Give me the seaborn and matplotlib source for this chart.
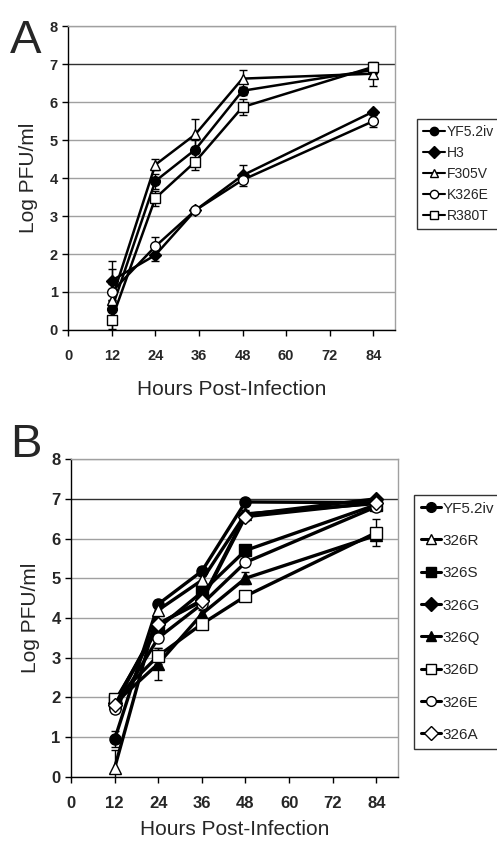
import numpy as np
import pandas as pd
import matplotlib
matplotlib.use("Agg")
import matplotlib.pyplot as plt
import seaborn as sns
from matplotlib.lines import Line2D
from matplotlib import font_manager

# Panel A data
hours_a = [12, 24, 35, 48, 84]
names_a = ["YF5.2iv", "H3", "F305V", "K326E", "R380T"]
yf_a = [0.55, 3.92, 4.75, 6.3, 6.85]
h3_a = [1.3, 1.97, 3.15, 4.07, 5.75]
f305v_a = [0.8, 4.35, 5.15, 6.62, 6.75]
k326e_a = [1.0, 2.2, 3.15, 3.95, 5.5]
r380t_a = [0.27, 3.47, 4.43, 5.87, 6.93]
err_yf_a = [0.2, 0.2, 0.25, 0.1, 0.12]
err_h3_a = [0.52, 0.15, 0.05, 0.27, 0.05]
err_f305v_a = [0.8, 0.15, 0.4, 0.22, 0.32]
err_k326e_a = [0.2, 0.25, 0.05, 0.05, 0.15]
err_r380t_a = [0.25, 0.2, 0.22, 0.2, 0.1]
markers_a = ["o", "D", "^", "o", "s"]
fills_a = ["black", "black", "white", "white", "white"]

# Panel B data
hours_b = [12, 24, 36, 48, 84]
names_b = ["YF5.2iv", "326R", "326S", "326G", "326Q", "326D", "326E", "326A"]
yf_b = [0.95, 4.35, 5.18, 6.92, 6.9]
r_b = [0.23, 4.2, 4.95, 6.62, 6.88]
s_b = [1.9, 3.75, 4.65, 5.7, 6.85]
g_b = [1.85, 3.85, 4.45, 6.6, 7.0]
q_b = [1.85, 2.85, 4.1, 5.0, 6.08]
d_b = [1.95, 3.05, 3.85, 4.55, 6.15]
e_b = [1.7, 3.5, 4.35, 5.4, 6.8]
a_b = [1.8, 3.85, 4.42, 6.55, 6.9]
err_yf_b = [0.2, 0.1, 0.1, 0.05, 0.1]
err_r_b = [0.45, 0.1, 0.1, 0.1, 0.1]
err_s_b = [0.1, 0.1, 0.1, 0.1, 0.1]
err_g_b = [0.1, 0.1, 0.1, 0.1, 0.05]
err_q_b = [0.1, 0.4, 0.1, 0.15, 0.1]
err_d_b = [0.1, 0.2, 0.1, 0.1, 0.35]
err_e_b = [0.1, 0.1, 0.1, 0.1, 0.1]
err_a_b = [0.1, 0.1, 0.1, 0.1, 0.1]
markers_b = ["o", "^", "s", "D", "^", "s", "o", "D"]
fills_b = ["black", "white", "black", "black", "black", "white", "white", "white"]

series_a = [yf_a, h3_a, f305v_a, k326e_a, r380t_a]
errs_a = [err_yf_a, err_h3_a, err_f305v_a, err_k326e_a, err_r380t_a]
series_b = [yf_b, r_b, s_b, g_b, q_b, d_b, e_b, a_b]
errs_b = [err_yf_b, err_r_b, err_s_b, err_g_b, err_q_b, err_d_b, err_e_b, err_a_b]

sns.set_style("white")
plt.rcParams['font.family'] = ['Liberation Sans', 'DejaVu Sans']

# narrow face for legend / panel B ticks if present
installed = {f.name for f in font_manager.fontManager.ttflist}
narrow = "Liberation Sans Narrow" if "Liberation Sans Narrow" in installed else "Liberation Sans"

fig = plt.figure(figsize=(4.97, 8.46), dpi=100)
ax_a = fig.add_axes([0.137, 0.610, 0.658, 0.359])
ax_b = fig.add_axes([0.143, 0.0816, 0.658, 0.3758])


def draw_panel(ax, hours, names, series, errs, markers, fills, msize, lw, tick_font, tick_size):
    for name, vals, err, m, fc in zip(names, series, errs, markers, fills):
        df = pd.DataFrame({"hours": hours, "logpfu": vals})
        ax.errorbar(hours, vals, yerr=err, fmt="none", ecolor="black",
                    elinewidth=1.0, capsize=3, capthick=1.0, zorder=2)
        ms = msize * (0.85 if m == "D" else 1.0)
        sns.lineplot(data=df, x="hours", y="logpfu", ax=ax, color="black",
                     linewidth=lw, marker=m, markersize=ms,
                     markerfacecolor=fc, markeredgecolor="black",
                     markeredgewidth=1.0, label=name, legend=False, zorder=3)
    ax.set_xlim(0, 90)
    ax.set_ylim(0, 8)
    ax.set_xticks(range(0, 85, 12))
    ax.set_yticks(range(0, 9))
    ax.grid(axis="y", color="#a0a0a0", linewidth=1.0)
    ax.grid(axis="x", visible=False)
    ax.set_axisbelow(True)
    ax.get_ygridlines()[7].set_color("#303030")
    for side in ["top", "right"]:
        ax.spines[side].set_color("#a0a0a0")
        ax.spines[side].set_linewidth(1.0)
    for side in ["left", "bottom"]:
        ax.spines[side].set_color("black")
        ax.spines[side].set_linewidth(1.0)
    ax.tick_params(axis="both", direction="out", length=4, width=1.0,
                   color="black", bottom=True, left=True)
    ax.tick_params(axis="x", pad=10)
    for lab in ax.get_xticklabels() + ax.get_yticklabels():
        lab.set_fontweight("bold")
        lab.set_fontsize(tick_size)
        lab.set_family(tick_font)
    ax.set_xlabel("Hours Post-Infection", fontsize=15, labelpad=12)
    ax.set_ylabel("Log PFU/ml", fontsize=15, labelpad=8)


draw_panel(ax_a, hours_a, names_a, series_a, errs_a, markers_a, fills_a, 7, 1.8,
           "Liberation Sans", 10.5)
draw_panel(ax_b, hours_b, names_b, series_b, errs_b, markers_b, fills_b, 8, 2.4,
           narrow, 12)
ax_b.xaxis.labelpad = 6

# legends in Excel style
handles_a = [Line2D([0], [0], color="black", linewidth=1.5, marker=m, markersize=6,
                    markerfacecolor=fc, markeredgecolor="black")
             for m, fc in zip(markers_a, fills_a)]
fig.legend(handles_a, names_a, loc="lower left", bbox_to_anchor=(0.839, 0.729),
           frameon=True, fancybox=False, edgecolor="black",
           prop={"family": narrow, "size": 10},
           handlelength=1.6, handletextpad=0.1, borderpad=0.45, labelspacing=0.5,
           borderaxespad=0)
handles_b = [Line2D([0], [0], color="black", linewidth=2.2, marker=m, markersize=7,
                    markerfacecolor=fc, markeredgecolor="black")
             for m, fc in zip(markers_b, fills_b)]
fig.legend(handles_b, names_b, loc="lower left", bbox_to_anchor=(0.834, 0.115),
           frameon=True, fancybox=False, edgecolor="black",
           prop={"family": narrow, "size": 11},
           handlelength=1.3, handletextpad=0.1, borderpad=0.45, labelspacing=1.2,
           borderaxespad=0)

fig.text(0.02, 0.952, "A", fontsize=34, ha="left", va="center")
fig.text(0.02, 0.474, "B", fontsize=34, ha="left", va="center")

fig.savefig("out.png", dpi=100)
